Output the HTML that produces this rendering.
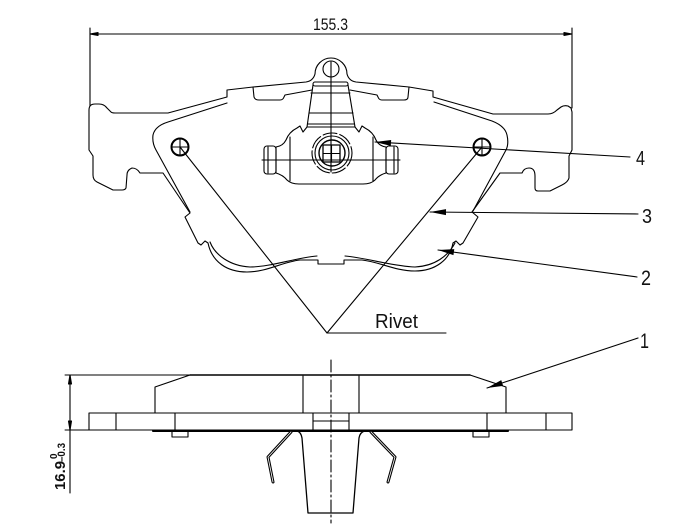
<!DOCTYPE html>
<html><head><meta charset="utf-8"><style>
html,body{margin:0;padding:0;background:#fff;}
svg{display:block;}
text{font-family:"Liberation Sans",sans-serif;fill:#111;}
</style></head><body>
<svg width="684" height="532" viewBox="0 0 684 532" xmlns="http://www.w3.org/2000/svg">
<defs>
<marker id="ar" markerUnits="userSpaceOnUse" markerWidth="17" markerHeight="8" viewBox="0 -4 17 8" refX="0" refY="0" orient="auto">
<path d="M0,0 L16,-3 L16,3 Z" fill="#000"/>
</marker>
</defs>
<g fill="none" stroke="#000" stroke-width="1.1" stroke-linejoin="round" stroke-linecap="round">

<!-- top dimension -->
<line x1="90" y1="34" x2="572" y2="34"/>
<line x1="90" y1="28" x2="90" y2="106"/>
<line x1="572" y1="28" x2="572" y2="108"/>
<path d="M90,34 L98,32.5 L98,35.5 Z" fill="#000"/>
<path d="M572,34 L564,32.5 L564,35.5 Z" fill="#000"/>

<!-- backplate outline (top view) -->
<path d="M89,110 Q89,104 95,104 L99,104 Q104,104 107,108 L111,112 Q112,113 115,113 L168,113 L227,97 L227,90 L253,87 L306,82 Q313,81 315,74 A16,16 0 1 1 347,74 Q349,81 356,82 L409,87 L433,91 L433,97 L493,114 L548,114 Q553,114 557,110 L561,107 Q564,105 568,106 L571,108 L572,112 L572,150 L569,156 L569,178 Q568,182 562,185 L550,191 L538,191 Q535,191 535,188 L535,176 Q535,168 529,168 Q524,168 522,173 L500,173 L472,212 L478,217 L463,243 L460,245 L456,241 L453,243 C450,260 435,271 415,271 C395,271 380,262 362,260 L344,260 L344,264 L318,264 L318,260 L300,260 C282,262 267,272 247,272 C227,272 212,262 208,243 L205,241 L201,245 L198,243 L185,217 L190,213 L163,173 L140,173 Q137,168 132,168 Q127,170 127,175 L126,188 Q125,190 122,190 L113,190 L97,182 Q93,180 93,175 L93,156 L89,150 Z"/>

<!-- notches in top edge / lining top -->
<path d="M253,87 L254,97 Q255,100 259,100 L280,100 Q283,100 284,97 L285,95 L312,90"/>
<path d="M350,90 L377,95 L378,97 Q379,100 382,100 L404,100 Q408,100 408,97 L409,87"/>

<!-- friction lining edges -->
<path d="M227,103 L168,122 Q155,126 153,135 Q152,143 156,150 L190,212"/>
<path d="M434,102 L492,121 Q505,126 507,135 Q509,144 506,150 L473,211"/>
<path d="M210,242 C215,255 230,266 250,267 C270,267 295,258 317,256"/>
<path d="M345,256 C367,258 392,266 415,267 C435,266 448,256 455,243"/>

<!-- ear hole -->
<circle cx="331" cy="69" r="8"/>

<!-- clip / trapezoid -->
<rect x="313" y="82" width="35" height="4" rx="2"/>
<line x1="313" y1="85" x2="307" y2="127"/>
<line x1="348" y1="85" x2="355" y2="127"/>
<line x1="311" y1="93" x2="350" y2="93"/>
<line x1="309" y1="113" x2="353" y2="113"/>
<line x1="308" y1="124" x2="354" y2="124"/>
<line x1="331" y1="62" x2="331" y2="172"/>

<!-- body -->
<path d="M297,128 L300,126 L303,132 L307,127 L355,127 L359,132 L362,126 L365,128 Q373,132 376,140 Q379,146 386,147 L386,173 Q379,175 375,180 Q371,184 363,184 L299,184 Q291,184 287,180 Q283,175 276,173 L276,147 Q283,146 286,140 Q289,132 297,128 Z"/>
<rect x="264" y="146" width="12" height="28" rx="3"/>
<line x1="268" y1="147" x2="268" y2="173"/>
<rect x="386" y="146" width="12" height="28" rx="3"/>
<line x1="394" y1="147" x2="394" y2="173"/>
<line x1="290" y1="137" x2="290" y2="181"/>
<line x1="373" y1="137" x2="373" y2="181"/>
<line x1="262" y1="160" x2="400" y2="160"/>
<circle cx="332" cy="153" r="20" stroke-dasharray="14,3"/>
<circle cx="332" cy="153" r="17"/>
<circle cx="332" cy="153" r="13" stroke-width="1.4"/>
<rect x="323" y="145" width="17" height="17" stroke-width="1.3"/>
<line x1="331.5" y1="145" x2="331.5" y2="162"/>
<line x1="323" y1="153.5" x2="340" y2="153.5"/>

<!-- rivets -->
<circle cx="180" cy="147" r="8.5" stroke-width="2"/>
<line x1="180" y1="139" x2="180" y2="155"/>
<line x1="172" y1="147" x2="188" y2="147"/>
<circle cx="482" cy="147" r="8.5" stroke-width="2"/>
<line x1="482" y1="139" x2="482" y2="155"/>
<line x1="474" y1="147" x2="490" y2="147"/>

<!-- rivet leaders -->
<path d="M180,147 L327,333 L482,147"/>
<line x1="327" y1="333" x2="446" y2="333"/>

<!-- part leaders -->
<path d="M375,142 L630,157" marker-start="url(#ar)"/>
<path d="M430,212 L638,214" marker-start="url(#ar)"/>
<path d="M438,250 L637,277" marker-start="url(#ar)"/>
<path d="M487,388 L638,338" marker-start="url(#ar)"/>

<!-- side view -->
<line x1="65" y1="375" x2="190" y2="375" stroke-width="0.9"/>
<line x1="190" y1="375" x2="470" y2="375" stroke-width="1.5"/>
<path d="M190,375 L155,387 L155,413"/>
<path d="M470,375 L506,387 L506,413"/>
<line x1="303" y1="376" x2="303" y2="413"/>
<line x1="359" y1="376" x2="359" y2="413"/>
<rect x="89" y="413" width="483" height="17"/>
<line x1="116" y1="413" x2="116" y2="430"/>
<line x1="175" y1="413" x2="175" y2="430"/>
<line x1="487" y1="413" x2="487" y2="430"/>
<line x1="546" y1="413" x2="546" y2="430"/>
<rect x="313" y="413" width="36" height="18"/>
<line x1="313" y1="421" x2="349" y2="421"/>
<line x1="153" y1="431" x2="508" y2="431" stroke-width="2"/>
<rect x="172" y="431" width="16" height="6"/>
<rect x="473" y="431" width="16" height="6"/>
<line x1="65" y1="430" x2="89" y2="430" stroke-width="0.9"/>
<line x1="70" y1="375" x2="70" y2="493"/>
<path d="M70,375 L68.5,384 L71.5,384 Z" fill="#000"/>
<path d="M70,430 L68.5,421 L71.5,421 Z" fill="#000"/>

<!-- clip in side view -->
<path d="M297,431 Q301,432 302,438 L308,513 L353,513 L359,438 Q360,432 365,431" stroke-width="1.3"/>
<path d="M291,432 L268,457 L273,482" stroke-width="3"/>
<path d="M291,432 L268,457 L273,482" stroke="#fff" stroke-width="0.8"/>
<path d="M371,432 L395,457 L388,482" stroke-width="3"/>
<path d="M371,432 L395,457 L388,482" stroke="#fff" stroke-width="0.8"/>
<line x1="331" y1="360" x2="331" y2="523" stroke-dasharray="12,3,2,3"/>
</g>

<!-- texts -->
<text x="313" y="30" font-size="17" textLength="35" lengthAdjust="spacingAndGlyphs">155.3</text>
<text x="375" y="328" font-size="20" textLength="43" lengthAdjust="spacingAndGlyphs">Rivet</text>
<text x="636" y="165" font-size="20" textLength="9" lengthAdjust="spacingAndGlyphs">4</text>
<text x="642" y="223" font-size="20" textLength="10" lengthAdjust="spacingAndGlyphs">3</text>
<text x="641" y="285" font-size="21" textLength="10" lengthAdjust="spacingAndGlyphs">2</text>
<text x="640" y="348" font-size="21" textLength="9" lengthAdjust="spacingAndGlyphs">1</text>
<text transform="translate(65,490) rotate(-90)" font-size="15" font-weight="bold" textLength="29" lengthAdjust="spacingAndGlyphs">16.9</text>
<text transform="translate(57,459) rotate(-90)" font-size="10" font-weight="bold">0</text>
<text transform="translate(65,462) rotate(-90)" font-size="11" font-weight="bold" textLength="19" lengthAdjust="spacingAndGlyphs">–0.3</text>
</svg>
</body></html>
